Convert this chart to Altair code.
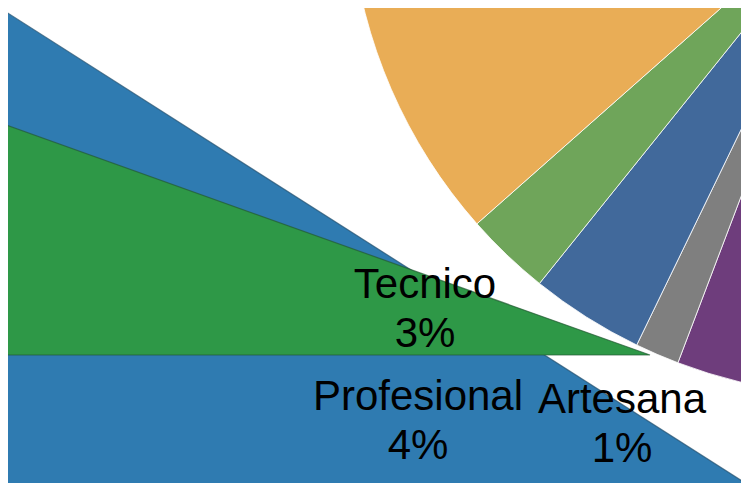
import math
import altair as alt
import pandas as pd

# ---- data -------------------------------------------------------------
pie_cats = ["Otros", "Artesana", "Profesional", "Tecnico", "Hogar"]
pie_vals = [8.0, 1.4, 3.6, 2.7, 40.0]
pie_colors = ["#6E3D7C", "#7F7F7F", "#41699B", "#6FA55A", "#E9AD56"]

band_names = ["Fondo azul", "Fondo verde"]
band_shares = [9.03, 5.46]
band_colors = ["#2F7BB1", "#2E9847"]

labels = ["Tecnico", "Profesional", "Artesana"]
pcts = ["3%", "4%", "1%"]

# ---- layout (styles / positions, kept apart from the data) -------------
W, H = 733, 475
TAU = 2 * math.pi

pie_df = pd.DataFrame({"cat": pie_cats, "val": pie_vals, "idx": list(range(len(pie_cats)))})
pie_start = math.radians(172.0)
pie = alt.Chart(pie_df).mark_arc(
    radius=510, stroke="white", strokeWidth=0.8, clip=True
).encode(
    theta=alt.Theta("val:Q", stack=True,
                    scale=alt.Scale(domain=[0, 100], range=[pie_start, pie_start + TAU])),
    color=alt.Color("cat:N", scale=alt.Scale(domain=pie_cats, range=pie_colors), legend=None),
    order=alt.Order("idx:Q"),
    x=alt.value(851),
    y=alt.value(-122),
)

band_geom = [
    dict(cx=742, cy=478, start=270.0, r=1000, stroke="#24506e"),
    dict(cx=642, cy=347, start=270.0, r=900, stroke="#245a33"),
]

bands = []
for name, share, col, g in zip(band_names, band_shares, band_colors, band_geom):
    df = pd.DataFrame({"name": [name], "share": [share]})
    a = math.radians(g["start"])
    bands.append(
        alt.Chart(df).mark_arc(
            radius=g["r"], color=col, stroke=g["stroke"], strokeWidth=1.2,
            strokeOpacity=0.7, clip=True
        ).encode(
            theta=alt.Theta("share:Q", stack=True,
                            scale=alt.Scale(domain=[0, 100], range=[a, a + TAU])),
            x=alt.value(g["cx"]),
            y=alt.value(g["cy"]),
        )
    )

label_pos = [(417, 290), (410, 402), (614, 405)]
texts = []
for lab, pct, (lx, ly) in zip(labels, pcts, label_pos):
    df = pd.DataFrame({"txt": [lab + "\n" + pct]})
    texts.append(
        alt.Chart(df).mark_text(
            font="Liberation Sans", fontSize=42, color="black", align="center",
            baseline="alphabetic", lineBreak="\n", lineHeight=49
        ).encode(text="txt:N", x=alt.value(lx), y=alt.value(ly))
    )

chart = alt.layer(*bands, pie, *texts).resolve_scale(
    theta="independent"
).properties(
    width=W, height=H, padding=0,
    autosize=alt.AutoSizeParams(type="none"),
    background="white",
).configure_view(stroke=None)

chart.save("out.html", embed_options={"renderer": "svg", "actions": False})
